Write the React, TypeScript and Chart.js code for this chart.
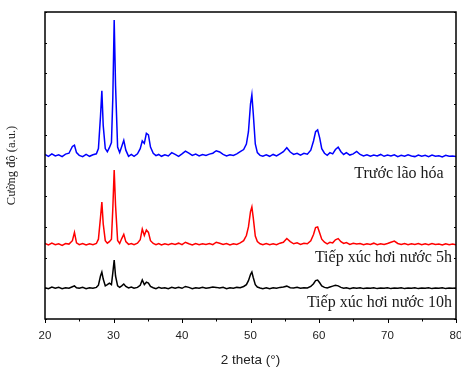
import React, { useEffect, useRef } from "react";
import { Chart, registerables } from "chart.js";
Chart.register(...registerables);

const twoTheta = [
  20, 20.5, 21, 21.5, 22, 22.5, 23, 23.5, 24, 24.3,
  24.6, 25, 25.5, 26, 26.5, 27, 27.5, 27.8, 28.1, 28.3,
  28.5, 28.8, 29.1, 29.4, 29.7, 29.9, 30.1, 30.3, 30.6, 30.9,
  31.2, 31.5, 31.8, 32.2, 32.6, 33, 33.5, 33.9, 34.2, 34.5,
  34.8, 35.1, 35.4, 35.8, 36.2, 36.6, 37, 37.5, 38, 38.5,
  39, 39.5, 40, 40.5, 41, 41.5, 42, 42.5, 43, 43.5,
  44, 44.5, 45, 45.5, 46, 46.5, 47, 47.5, 48, 48.5,
  49, 49.4, 49.7, 50, 50.2, 50.4, 50.7, 51, 51.4, 51.8,
  52.3, 52.8, 53.3, 53.8, 54.3, 54.8, 55.3, 55.8, 56.3, 56.8,
  57.3, 57.8, 58.3, 58.8, 59.2, 59.5, 59.8, 60.1, 60.4, 60.8,
  61.2, 61.6, 62, 62.4, 62.8, 63.2, 63.6, 64, 64.5, 65,
  65.5, 66, 66.5, 67, 67.5, 68, 68.5, 69, 69.5, 70,
  70.5, 71, 71.5, 72, 72.5, 73, 73.5, 74, 74.5, 75,
  75.5, 76, 76.5, 77, 77.5, 78, 78.5, 79, 79.5, 80,
];

const blueBefore = [
  5.36, 5.30, 5.38, 5.31, 5.35, 5.29, 5.37, 5.40, 5.62, 5.66,
  5.42, 5.33, 5.29, 5.36, 5.30, 5.35, 5.38, 5.55, 6.60, 7.43,
  6.30, 5.55, 5.45, 5.58, 5.75, 7.20, 9.74, 7.60, 5.60, 5.42,
  5.62, 5.82, 5.50, 5.30, 5.36, 5.30, 5.38, 5.55, 5.80, 5.72,
  6.05, 6.00, 5.60, 5.40, 5.32, 5.36, 5.30, 5.35, 5.31, 5.42,
  5.36, 5.30, 5.38, 5.47, 5.40, 5.33, 5.37, 5.31, 5.36, 5.33,
  5.37, 5.40, 5.48, 5.44, 5.36, 5.31, 5.35, 5.33, 5.38, 5.45,
  5.52, 5.70, 6.10, 7.00, 7.30, 6.70, 5.70, 5.42, 5.33, 5.30,
  5.35, 5.30, 5.36, 5.31, 5.38, 5.45, 5.58, 5.44, 5.36, 5.40,
  5.34, 5.40, 5.37, 5.50, 5.80, 6.10, 6.16, 5.90, 5.55, 5.40,
  5.33, 5.42, 5.38, 5.52, 5.60, 5.45, 5.36, 5.42, 5.34, 5.38,
  5.46, 5.36, 5.31, 5.35, 5.30, 5.34, 5.31, 5.36, 5.30, 5.34,
  5.31, 5.35, 5.29, 5.33, 5.30, 5.35, 5.31, 5.29, 5.34, 5.30,
  5.33, 5.29, 5.34, 5.30, 5.32, 5.28, 5.33, 5.30, 5.31, 5.29,
];

const red5h = [
  2.46, 2.41, 2.47, 2.42, 2.45, 2.40, 2.46, 2.44, 2.55, 2.82,
  2.48, 2.42, 2.46, 2.41, 2.45, 2.42, 2.46, 2.60, 3.30, 3.81,
  3.10, 2.55, 2.47, 2.52, 2.60, 3.60, 4.85, 3.70, 2.56, 2.46,
  2.62, 2.76, 2.52, 2.43, 2.46, 2.42, 2.47, 2.58, 2.93, 2.72,
  2.90, 2.82, 2.55, 2.46, 2.42, 2.46, 2.41, 2.45, 2.42, 2.46,
  2.43, 2.47, 2.42, 2.50, 2.45, 2.41, 2.46, 2.42, 2.45, 2.43,
  2.46, 2.42, 2.50, 2.47, 2.43, 2.46, 2.41, 2.45, 2.43, 2.48,
  2.55, 2.72, 3.00, 3.50, 3.65, 3.30, 2.70, 2.52, 2.45, 2.42,
  2.46, 2.42, 2.45, 2.42, 2.47, 2.50, 2.62, 2.52, 2.45, 2.48,
  2.43, 2.47, 2.45, 2.55, 2.75, 2.98, 3.00, 2.80, 2.60, 2.50,
  2.45, 2.50, 2.48, 2.58, 2.62, 2.52, 2.46, 2.49, 2.43, 2.47,
  2.44, 2.46, 2.42, 2.45, 2.43, 2.47, 2.42, 2.45, 2.43, 2.46,
  2.50, 2.54, 2.46, 2.43, 2.46, 2.42, 2.45, 2.43, 2.46, 2.42,
  2.45, 2.42, 2.46, 2.43, 2.44, 2.41, 2.45, 2.42, 2.44, 2.42,
];

const black10h = [
  1.02, 0.99, 1.04, 1.00, 1.03, 0.99, 1.02, 1.00, 1.05, 1.08,
  1.02, 1.00, 1.03, 0.99, 1.02, 1.00, 1.03, 1.10, 1.40, 1.53,
  1.30, 1.08, 1.12, 1.17, 1.12, 1.50, 1.92, 1.40, 1.08, 1.03,
  1.08, 1.14, 1.06, 1.01, 1.04, 1.00, 1.03, 1.10, 1.27, 1.12,
  1.20, 1.17, 1.06, 1.02, 0.99, 1.03, 1.00, 1.02, 0.99, 1.03,
  1.00, 1.03, 1.00, 1.06, 1.03, 0.99, 1.02, 1.00, 1.03, 1.00,
  1.02, 1.04, 1.03, 1.01, 1.03, 0.99, 1.02, 1.00, 1.03, 1.02,
  1.06, 1.12, 1.25, 1.45, 1.53, 1.35, 1.12, 1.04, 1.01, 0.99,
  1.02, 0.99, 1.02, 1.00, 1.03, 1.04, 1.07, 1.02, 1.01, 1.03,
  1.00, 1.02, 1.01, 1.06, 1.15, 1.25, 1.27, 1.18, 1.08, 1.03,
  1.01, 1.04, 1.07, 1.10, 1.08, 1.03, 1.00, 1.02, 0.99, 1.02,
  1.00, 1.02, 0.99, 1.01, 1.00, 1.02, 0.99, 1.01, 1.00, 1.02,
  0.99, 1.01, 1.00, 1.02, 0.99, 1.01, 1.00, 1.02, 0.99, 1.01,
  1.00, 1.02, 0.99, 1.01, 1.00, 1.02, 0.99, 1.01, 1.00, 1.01,
];

const xMajorTicks = [20, 30, 40, 50, 60, 70, 80];
const xMinorTicks = [25, 35, 45, 55, 65, 75];
const yTickValues = [0, 1, 2, 3, 4, 5, 6, 7, 8, 9, 10];

const seriesNames = ["Trước lão hóa", "Tiếp xúc hơi nước 5h", "Tiếp xúc hơi nước 10h"];
const seriesColors = ["#0000ff", "#ff0000", "#000000"];
const labelAnchorX = [78.2, 79.4, 79.4];
const labelAnchorY = [4.6, 1.86, 0.39];

const framePlugin = {
  id: "frameAndLabels",
  afterDatasetsDraw(chart: any) {
    const { ctx, chartArea: a, scales } = chart;
    const xs = scales.x;
    const ys = scales.y;
    ctx.save();
    ctx.strokeStyle = "#000";
    ctx.lineWidth = 1.5;
    ctx.strokeRect(a.left, a.top, a.right - a.left, a.bottom - a.top);
    ctx.lineWidth = 1;
    ctx.beginPath();
    for (const v of xMajorTicks) {
      const px = Math.round(xs.getPixelForValue(v)) + 0.5;
      ctx.moveTo(px, a.bottom);
      ctx.lineTo(px, a.bottom + 4);
    }
    for (const v of xMinorTicks) {
      const px = Math.round(xs.getPixelForValue(v)) + 0.5;
      ctx.moveTo(px, a.bottom);
      ctx.lineTo(px, a.bottom + 2.5);
    }
    for (const v of yTickValues) {
      const py = Math.round(ys.getPixelForValue(v)) + 0.5;
      ctx.moveTo(a.left, py);
      ctx.lineTo(a.left + 2, py);
      ctx.moveTo(a.right, py);
      ctx.lineTo(a.right - 2, py);
    }
    ctx.stroke();

    ctx.font = "16px 'Liberation Serif', 'Times New Roman', serif";
    ctx.fillStyle = "#1a1a1a";
    ctx.textAlign = "right";
    ctx.textBaseline = "alphabetic";
    seriesNames.forEach((name, i) => {
      ctx.fillText(name, xs.getPixelForValue(labelAnchorX[i]), ys.getPixelForValue(labelAnchorY[i]));
    });
    ctx.restore();
  },
};

export default function App() {
  const canvasRef = useRef<HTMLCanvasElement | null>(null);

  useEffect(() => {
    const canvas = canvasRef.current;
    if (!canvas) return;
    const series = [blueBefore, red5h, black10h];
    const chart = new Chart(canvas, {
      type: "line",
      data: {
        datasets: series.map((vals, i) => ({
          label: seriesNames[i],
          data: twoTheta.map((x, j) => ({ x, y: vals[j] })),
          borderColor: seriesColors[i],
          backgroundColor: seriesColors[i],
          borderWidth: 1.5,
          pointRadius: 0,
          tension: 0,
          fill: false,
        })),
      },
      options: {
        responsive: false,
        animation: false,
        events: [],
        layout: { padding: { left: 0, top: 12, right: 5, bottom: 0 } },
        plugins: {
          legend: { display: false },
          tooltip: { enabled: false },
        },
        scales: {
          x: {
            type: "linear",
            min: 20,
            max: 80,
            grid: { display: false, drawTicks: false },
            border: { display: false },
            ticks: {
              stepSize: 10,
              padding: 10,
              color: "#222",
              font: { family: "'Liberation Sans', Arial, sans-serif", size: 11.5 },
            },
            title: {
              display: true,
              text: "2 theta (°)",
              color: "#222",
              padding: { top: 0, bottom: 0 },
              font: { family: "'Liberation Sans', Arial, sans-serif", size: 13.5, lineHeight: 1 },
            },
            afterFit: (scale: any) => {
              scale.height = 48;
              scale.paddingLeft = 0;
              scale.paddingRight = 0;
            },
          },
          y: {
            type: "linear",
            min: 0,
            max: 10,
            grid: { display: false, drawTicks: false },
            border: { display: false },
            ticks: { display: false, stepSize: 1 },
            title: {
              display: true,
              text: "Cường độ (a.u.)",
              color: "#222",
              padding: { top: 5, bottom: 0 },
              font: { family: "'Liberation Serif', 'Times New Roman', serif", size: 12.5, lineHeight: 1 },
            },
            afterFit: (scale: any) => {
              scale.width = 45;
              scale.paddingTop = 0;
              scale.paddingBottom = 0;
            },
          },
        },
      },
      plugins: [framePlugin],
    });
    return () => chart.destroy();
  }, []);

  return (
    <div style={{ position: "fixed", left: 0, top: 0, width: 461, height: 367, background: "#fff" }}>
      <canvas ref={canvasRef} width={461} height={367} style={{ width: 461, height: 367 }} />
    </div>
  );
}
